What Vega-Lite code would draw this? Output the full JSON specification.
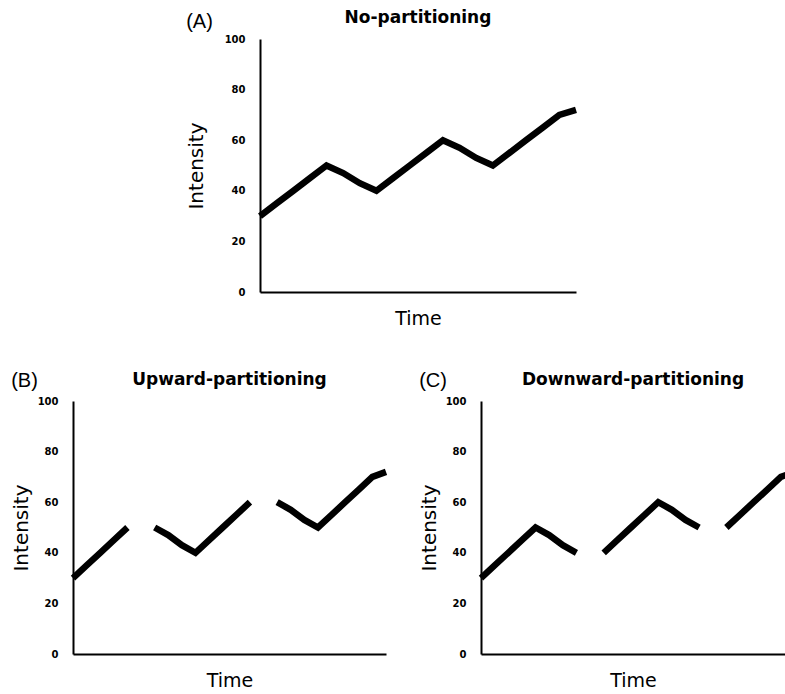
{
  "$schema": "https://vega.github.io/schema/vega-lite/v6.json",
  "background": "white",
  "padding": {"left": 11, "top": 9, "right": 0, "bottom": 0},
  "config": {
    "view": {"stroke": null},
    "axis": {
      "domainColor": "black",
      "domainWidth": 2,
      "ticks": false,
      "grid": false,
      "labelFont": "DejaVu Sans",
      "labelFontWeight": "bold",
      "labelFontSize": 10,
      "labelColor": "black",
      "labelPadding": 15,
      "titleFont": "DejaVu Sans",
      "titleFontWeight": "normal",
      "titleColor": "black"
    },
    "axisX": {"labels": false, "titleFontSize": 19, "titlePadding": 17},
    "axisY": {"titleFontSize": 20, "values": [0, 20, 40, 60, 80, 100]},
    "title": {
      "font": "DejaVu Sans",
      "fontWeight": "bold",
      "fontSize": 17,
      "color": "black",
      "anchor": "middle",
      "frame": "group",
      "offset": 7
    },
    "line": {"color": "black", "strokeWidth": 6.5, "strokeJoin": "miter", "strokeCap": "butt", "clip": true}
  },
  "datasets": {
    "none": [
      {"t": 0, "v": 30}, {"t": 1, "v": 35}, {"t": 2, "v": 40}, {"t": 3, "v": 45}, {"t": 4, "v": 50},
      {"t": 5, "v": 47}, {"t": 6, "v": 43}, {"t": 7, "v": 40}, {"t": 8, "v": 45}, {"t": 9, "v": 50},
      {"t": 10, "v": 55}, {"t": 11, "v": 60}, {"t": 12, "v": 57}, {"t": 13, "v": 53}, {"t": 14, "v": 50},
      {"t": 15, "v": 55}, {"t": 16, "v": 60}, {"t": 17, "v": 65}, {"t": 18, "v": 70}, {"t": 19, "v": 72}
    ],
    "up": [
      {"seg": 1, "t": 0, "v": 30}, {"seg": 1, "t": 1, "v": 35}, {"seg": 1, "t": 2, "v": 40}, {"seg": 1, "t": 3, "v": 45}, {"seg": 1, "t": 4, "v": 50},
      {"seg": 2, "t": 6, "v": 50}, {"seg": 2, "t": 7, "v": 47}, {"seg": 2, "t": 8, "v": 43}, {"seg": 2, "t": 9, "v": 40},
      {"seg": 2, "t": 10, "v": 45}, {"seg": 2, "t": 11, "v": 50}, {"seg": 2, "t": 12, "v": 55}, {"seg": 2, "t": 13, "v": 60},
      {"seg": 3, "t": 15, "v": 60}, {"seg": 3, "t": 16, "v": 57}, {"seg": 3, "t": 17, "v": 53}, {"seg": 3, "t": 18, "v": 50},
      {"seg": 3, "t": 19, "v": 55}, {"seg": 3, "t": 20, "v": 60}, {"seg": 3, "t": 21, "v": 65}, {"seg": 3, "t": 22, "v": 70}, {"seg": 3, "t": 23, "v": 72}
    ],
    "down": [
      {"seg": 1, "t": 0, "v": 30}, {"seg": 1, "t": 1, "v": 35}, {"seg": 1, "t": 2, "v": 40}, {"seg": 1, "t": 3, "v": 45}, {"seg": 1, "t": 4, "v": 50},
      {"seg": 1, "t": 5, "v": 47}, {"seg": 1, "t": 6, "v": 43}, {"seg": 1, "t": 7, "v": 40},
      {"seg": 2, "t": 9, "v": 40}, {"seg": 2, "t": 10, "v": 45}, {"seg": 2, "t": 11, "v": 50}, {"seg": 2, "t": 12, "v": 55},
      {"seg": 2, "t": 13, "v": 60}, {"seg": 2, "t": 14, "v": 57}, {"seg": 2, "t": 15, "v": 53}, {"seg": 2, "t": 16, "v": 50},
      {"seg": 3, "t": 18, "v": 50}, {"seg": 3, "t": 19, "v": 55}, {"seg": 3, "t": 20, "v": 60}, {"seg": 3, "t": 21, "v": 65},
      {"seg": 3, "t": 22, "v": 70}, {"seg": 3, "t": 23, "v": 72}
    ]
  },
  "spacing": 43,
  "vconcat": [
    {
      "spacing": 20,
      "hconcat": [
        {"width": 93, "height": 10, "data": {"values": []}, "mark": "point", "encoding": {}},
        {
          "title": {"text": "(A)", "font": "Liberation Sans", "fontWeight": "normal", "fontSize": 20, "anchor": "start", "frame": "bounds", "offset": -23},
          "hconcat": [
            {
              "title": "No-partitioning",
              "width": 316,
              "height": 253,
              "data": {"name": "none"},
              "mark": "line",
              "encoding": {
                "x": {"field": "t", "type": "quantitative", "scale": {"domain": [0, 19], "nice": false, "zero": false}, "axis": {"title": "Time"}},
                "y": {"field": "v", "type": "quantitative", "scale": {"domain": [0, 100], "nice": false}, "axis": {"title": "Intensity", "titlePadding": 18}}
              }
            }
          ]
        }
      ]
    },
    {
      "spacing": 20,
      "hconcat": [
        {
          "title": {"text": "(B)", "font": "Liberation Sans", "fontWeight": "normal", "fontSize": 20, "anchor": "start", "frame": "bounds", "offset": -20},
          "hconcat": [
            {
              "title": "Upward-partitioning",
              "width": 313,
              "height": 253,
              "data": {"name": "up"},
              "mark": "line",
              "encoding": {
                "x": {"field": "t", "type": "quantitative", "scale": {"domain": [0, 23], "nice": false, "zero": false}, "axis": {"title": "Time"}},
                "y": {"field": "v", "type": "quantitative", "scale": {"domain": [0, 100], "nice": false}, "axis": {"title": "Intensity", "titlePadding": 6}},
                "detail": {"field": "seg", "type": "nominal"}
              }
            }
          ]
        },
        {
          "title": {"text": "(C)", "font": "Liberation Sans", "fontWeight": "normal", "fontSize": 20, "anchor": "start", "frame": "bounds", "offset": -20},
          "hconcat": [
            {
              "title": "Downward-partitioning",
              "width": 304,
              "height": 253,
              "data": {"name": "down"},
              "mark": "line",
              "encoding": {
                "x": {"field": "t", "type": "quantitative", "scale": {"domain": [0, 22.3], "nice": false, "zero": false}, "axis": {"title": "Time"}},
                "y": {"field": "v", "type": "quantitative", "scale": {"domain": [0, 100], "nice": false}, "axis": {"title": "Intensity", "titlePadding": 6}},
                "detail": {"field": "seg", "type": "nominal"}
              }
            }
          ]
        }
      ]
    }
  ]
}
